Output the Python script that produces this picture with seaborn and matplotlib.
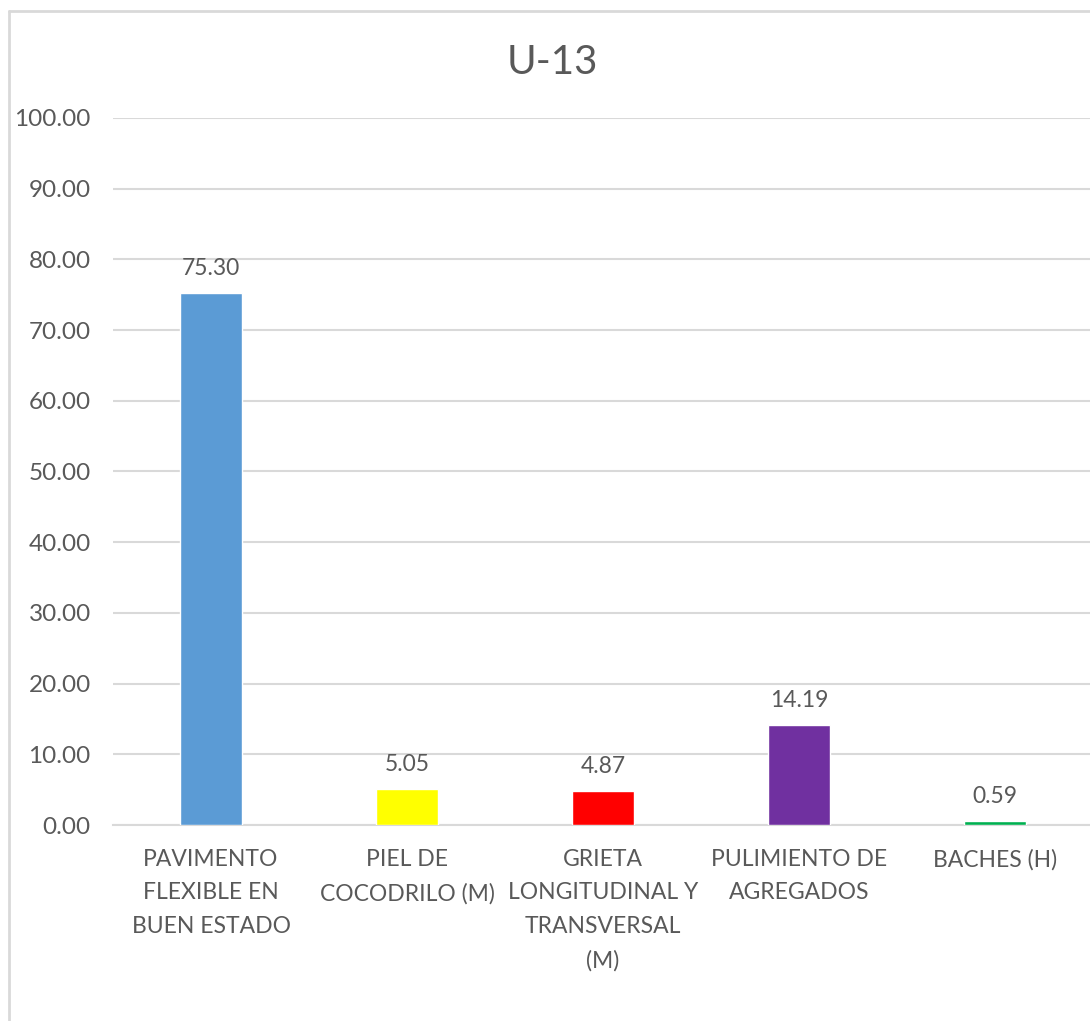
import matplotlib
matplotlib.use("Agg")
import matplotlib.pyplot as plt
from matplotlib.lines import Line2D
import seaborn as sns
import pandas as pd

# Distress categories and their share of the surveyed pavement (%)
categories = [
    "PAVIMENTO\nFLEXIBLE EN\nBUEN ESTADO",
    "PIEL DE\nCOCODRILO (M)",
    "GRIETA\nLONGITUDINAL Y\nTRANSVERSAL\n(M)",
    "PULIMIENTO DE\nAGREGADOS",
    "BACHES (H)",
]
values = [75.30, 5.05, 4.87, 14.19, 0.59]
bar_colors = ["#5B9BD5", "#FFFF00", "#FF0000", "#7030A0", "#00B050"]
y_ticks = [0, 10, 20, 30, 40, 50, 60, 70, 80, 90, 100]
title = "U-13"

sns.set_theme(style="white")
plt.rcParams["font.family"] = ["Lato", "DejaVu Sans"]
text_color = "#595959"
grid_color = "#D9D9D9"

df = pd.DataFrame({"cat": categories, "val": values})

W, H = 1090, 1021
fig = plt.figure(figsize=(W / 100, H / 100), dpi=100)
ax = fig.add_axes([113 / W, (H - 825) / H, 980 / W, (825 - 118) / H])

sns.barplot(data=df, x="cat", y="val", hue="cat", palette=bar_colors,
            legend=False, width=0.316, saturation=1, ax=ax, zorder=3)

ax.set_ylim(0, 100)
ax.set_xlim(-0.5, len(categories) - 0.5)
ax.set_yticks(y_ticks)
ax.set_yticklabels([f"{t:.2f}" for t in y_ticks])
ax.yaxis.grid(True, color=grid_color, linewidth=1.5, zorder=0)
ax.xaxis.grid(False)
for s in ["left", "right", "top"]:
    ax.spines[s].set_visible(False)
ax.spines["bottom"].set_color(grid_color)
ax.spines["bottom"].set_linewidth(1.5)
ax.tick_params(axis="y", length=0, pad=16, labelsize=17.5, labelcolor=text_color)
ax.tick_params(axis="x", length=0, pad=17, labelsize=16.5, labelcolor=text_color)
for lbl in ax.get_xticklabels():
    lbl.set_linespacing(1.75)
ax.set_xlabel("")
ax.set_ylabel("")

# Value labels above each bar
for i, v in enumerate(values):
    ax.annotate(f"{v:.2f}", (i, v), xytext=(0, 10), textcoords="offset points",
                ha="center", va="bottom", fontsize=16.5, color=text_color)

fig.text(552 / W, (H - 62) / H, title, ha="center", va="center",
         fontsize=29, color=text_color)

# Chart frame (left and top edges)
fig.add_artist(Line2D([9 / W, 9 / W], [0, (H - 11) / H], color=grid_color,
                      linewidth=2, transform=fig.transFigure))
fig.add_artist(Line2D([9 / W, 1], [(H - 11) / H, (H - 11) / H], color=grid_color,
                      linewidth=2, transform=fig.transFigure))

fig.savefig("out.png", dpi=100, facecolor="white")
